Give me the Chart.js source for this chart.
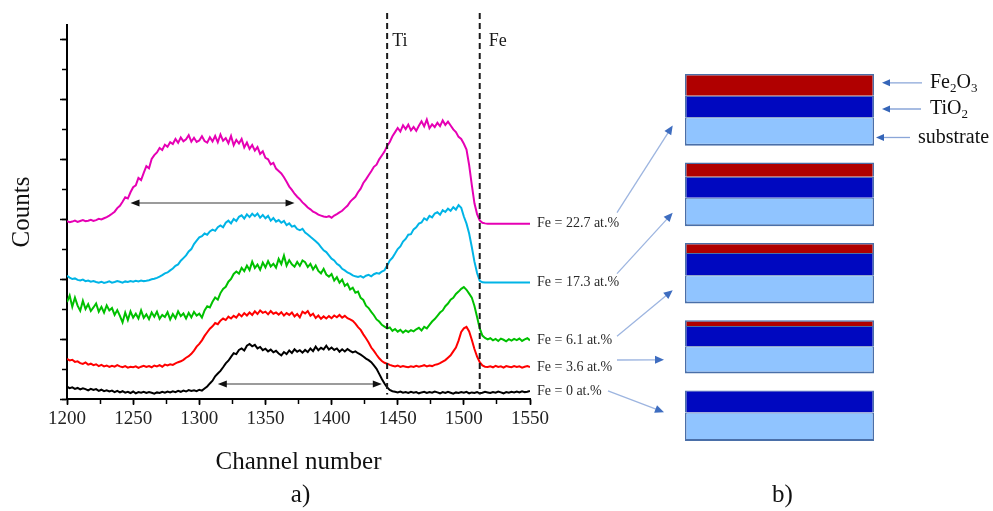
<!DOCTYPE html>
<html>
<head>
<meta charset="utf-8">
<title>RBS spectra of Fe2O3/TiO2 films</title>
<script src="https://cdn.jsdelivr.net/npm/chart.js@4.4.1/dist/chart.umd.min.js"></script>
<style>
  html, body { margin: 0; padding: 0; background: #ffffff; }
  #wrap { position: relative; width: 993px; height: 511px; }
  #wrap canvas { position: absolute; left: 0; top: 0; }
  #layers { pointer-events: none; }
</style>
</head>
<body>
<div id="wrap">
  <canvas id="spectra" width="993" height="511"></canvas>
  <canvas id="layers" width="993" height="511"></canvas>
</div>
<script>
// ---------------------------------------------------------------------------
// Spectra: counts (arbitrary, vertically offset) every 2 channels, 1200..1550
// ---------------------------------------------------------------------------
const channelStart = 1200;
const channelStep = 2;

const sampleLabels = ['Fe = 0 at.%', 'Fe = 3.6 at.%', 'Fe = 6.1 at.%', 'Fe = 17.3 at.%', 'Fe = 22.7 at.%'];

const countsFe0 = [
  4.1, 3.6, 3.9, 3.4, 3.7, 3.2, 3.6, 3.3, 2.9, 3.4,
  3.0, 3.3, 2.7, 3.1, 2.6, 2.9, 2.5, 2.8, 2.3, 2.7,
  2.2, 2.6, 2.1, 2.4, 2.0, 2.5, 1.9, 2.3, 2.1, 2.4,
  2.0, 2.3, 2.1, 1.8, 2.2, 2.0, 2.4, 2.1, 2.5, 2.2,
  2.6, 2.3, 2.7, 2.4, 2.8, 2.5, 3.0, 2.7, 2.9, 2.6,
  3.1, 2.8, 3.5, 4.2, 5.2, 6.1, 7.6, 8.5, 9.4, 10.6,
  11.9, 12.8, 14.1, 15.3, 15.0, 16.4, 16.9, 16.2, 17.8, 18.4,
  17.6, 18.1, 16.9, 17.4, 16.3, 16.8, 15.9, 16.5, 15.6, 16.1,
  15.2, 14.6, 15.7, 15.0, 16.2, 15.4, 16.6, 15.8, 16.3, 15.5,
  16.4, 15.7, 16.9, 16.0, 17.5, 16.3, 17.1, 16.6, 17.8, 16.5,
  17.2, 16.4, 16.9, 15.8, 16.6, 15.9, 16.7, 16.1, 15.6, 15.9,
  15.3, 14.8, 14.2, 13.5, 13.0, 12.3, 11.2, 10.1, 8.4, 6.7,
  5.2, 3.9, 3.0, 2.6, 2.4, 2.2, 2.5, 2.1, 2.3, 2.0,
  2.4, 2.1, 2.3, 1.9, 2.2, 2.4, 2.0, 2.3, 2.1, 2.5,
  2.2, 1.9, 2.3, 2.0, 2.4, 2.1, 1.8, 2.2, 2.0, 2.3,
  2.1, 2.4, 1.9, 2.2, 2.0, 2.3, 1.9, 2.1, 2.4, 2.2,
  2.0, 2.3, 2.1, 2.5, 2.2, 1.9, 2.3, 2.1, 2.4, 2.2,
  2.5, 2.2, 2.6, 2.3, 2.4, 2.7
];

const countsFe36 = [
  13.4, 12.9, 13.1, 12.4, 12.6, 12.0, 11.7, 12.2, 11.5, 11.8,
  11.3, 11.6, 11.0, 11.4, 10.9, 11.2, 10.7, 11.1, 10.8, 11.3,
  10.9, 10.6, 11.0, 10.5, 10.8, 10.6, 10.9, 10.4, 10.8, 11.1,
  10.7, 11.0, 10.6, 11.2, 10.9, 11.3, 10.8, 11.5, 11.2, 11.6,
  11.4, 11.9, 12.3, 12.6, 13.1, 13.8, 14.3, 15.1, 16.2, 17.5,
  18.4, 19.6, 21.1, 22.3, 23.5, 24.3, 25.4, 25.0, 26.2, 26.9,
  26.4, 27.5, 26.9, 27.8, 27.2, 28.4, 27.6, 28.7, 27.9, 28.9,
  28.1, 29.3, 28.4, 29.6, 28.8, 29.2, 28.3, 29.4, 28.5, 28.9,
  28.2, 29.0, 27.9, 28.7, 28.1, 28.9, 27.6, 28.4, 27.3, 29.2,
  28.6, 29.4, 27.8, 28.5, 27.1, 27.9, 26.8, 27.6, 26.9, 27.7,
  27.0, 27.9, 27.3, 28.1, 27.2, 27.8, 27.0, 26.6, 26.1, 25.2,
  24.0, 23.1, 21.6, 20.3, 18.9, 17.2, 16.1, 14.8, 13.6, 12.7,
  12.1, 11.8, 11.4, 11.1, 10.9, 11.2, 10.7, 11.0, 10.8, 10.6,
  10.9, 10.7, 11.1, 10.8, 11.0, 11.3, 10.9, 11.2, 11.0, 11.4,
  11.6, 12.0, 12.5, 13.0, 13.8, 14.6, 15.9, 17.2, 19.5, 22.4,
  23.6, 24.1, 22.6, 19.8, 16.7, 14.2, 12.3, 11.2, 10.8, 10.7,
  10.9, 10.6, 11.1, 10.7, 10.9, 10.5, 11.0, 10.8, 10.6, 11.0,
  10.7, 10.9, 10.5, 10.8, 11.0, 10.7
];

const countsFe61 = [
  32.4, 34.6, 30.8, 33.9, 31.2, 29.5, 32.8, 30.1, 31.7, 29.4,
  30.6, 31.9, 29.2, 30.8, 28.9, 31.3, 29.6, 30.4, 28.1, 29.7,
  27.8, 25.6, 28.9, 26.4, 29.3, 27.2, 28.5, 26.9, 29.6, 27.1,
  28.3, 26.7, 28.9, 27.5, 29.2, 26.8, 28.1, 27.4, 29.0, 26.6,
  28.4, 27.0, 29.3, 27.7, 28.6, 26.9, 28.8, 27.3, 29.1, 27.9,
  28.5, 27.2, 29.6, 31.0, 30.6, 32.5, 33.9, 33.2, 35.4, 36.8,
  37.5, 39.2, 40.1, 41.8, 42.6, 41.9, 43.8, 42.7, 44.6, 43.1,
  45.9, 43.8, 44.9, 43.2, 45.6, 44.0, 46.1, 44.3, 45.2, 43.9,
  46.8, 45.1, 47.9, 44.6, 46.4, 45.0, 44.2, 45.8, 44.5, 46.3,
  45.7, 44.1, 45.2, 43.3, 44.6, 42.8, 42.0, 43.5, 41.6, 40.9,
  41.8, 39.6, 40.7, 38.9, 39.9, 37.8, 38.5, 36.6, 37.2, 35.5,
  35.9, 33.8, 33.1, 31.2, 30.4, 29.1, 28.0, 26.6, 25.9, 24.8,
  24.2, 23.6, 23.9, 22.8, 23.4, 22.5, 23.1, 22.2, 22.9, 22.4,
  23.0, 22.6, 23.3, 23.8, 22.9, 24.1, 23.6, 24.8, 25.9, 26.7,
  27.8, 28.9, 29.6, 31.0, 31.9, 33.2, 33.8, 35.1, 35.9, 36.8,
  37.4, 36.5, 35.2, 33.9, 31.1, 27.4, 23.6, 21.2, 20.4, 19.9,
  20.3, 19.6, 20.1, 19.4, 20.2, 19.8, 19.3, 20.0, 19.5, 20.1,
  19.7, 20.2, 19.4, 19.9, 20.3, 19.6
];

const countsFe173 = [
  41.2, 40.6, 40.1, 40.3, 39.8, 39.6, 39.9, 39.4, 39.6, 39.2,
  39.4, 39.1, 38.9, 39.2, 38.8, 39.0, 39.3, 38.9, 39.1, 39.4,
  39.2, 38.9, 39.3, 39.1, 39.4, 39.2, 39.5, 39.3, 39.6, 39.4,
  39.5, 39.7, 40.0, 40.2, 40.5, 40.9, 41.4, 42.0, 42.3, 43.0,
  43.6, 44.5, 45.0, 46.2, 47.1, 48.0, 49.3, 50.1, 51.8, 52.9,
  54.0, 54.4, 55.3, 54.9, 56.0, 56.6, 56.2, 57.4, 58.0, 57.4,
  58.9, 59.6, 58.7, 60.2, 59.5, 60.9, 61.4, 60.3, 61.7, 60.8,
  61.9, 61.1, 62.0, 60.6, 61.5, 60.4, 61.2, 59.6, 60.5, 59.3,
  59.8, 58.9, 59.5, 58.1, 58.7, 57.6, 57.9, 56.8, 56.4, 56.9,
  55.6, 55.0, 54.2, 53.5, 52.7, 51.9, 50.8, 49.7, 49.1, 48.0,
  46.9, 46.3, 45.2, 44.6, 43.5, 43.0, 42.3, 41.9, 41.3, 41.0,
  40.8, 41.1, 40.6, 41.2, 41.5, 41.0, 41.7, 42.1, 41.9, 42.6,
  43.0, 44.6, 46.3, 47.2, 48.6, 50.1, 51.0, 52.6, 53.5, 54.9,
  55.1, 56.7, 57.4, 58.6, 59.0, 60.4, 59.8, 61.2, 60.7, 62.0,
  62.4, 61.6, 63.1, 62.5, 63.6, 62.9, 64.1, 63.3, 64.8, 63.9,
  61.0, 58.6, 55.3, 50.8, 45.9, 42.1, 39.5, 39.0, 38.9, 38.9,
  38.9, 38.9, 38.9, 38.9, 38.9, 38.9, 38.9, 38.9, 38.9, 38.9,
  38.9, 38.9, 38.9, 38.9, 38.9, 38.9
];

const countsFe227 = [
  59.4, 59.1, 59.3, 59.6, 59.2, 59.5, 59.8, 59.4, 59.6, 59.9,
  59.5, 59.8, 60.2, 60.0, 60.4, 60.8, 61.3, 61.9, 62.6, 63.8,
  64.6, 65.9, 67.4, 67.0, 69.1, 70.8, 71.4, 73.9, 73.2, 75.6,
  77.8, 77.1, 80.2, 81.5, 82.4, 83.9, 83.2, 85.0, 84.3, 85.8,
  85.2, 86.9, 85.6, 87.4, 86.1, 86.8, 88.2, 86.0, 87.3, 85.9,
  86.4, 87.8, 86.2, 85.7, 87.5, 86.1, 87.9, 85.8, 88.4, 86.3,
  87.2, 85.5, 87.9, 84.8, 86.6, 85.4, 86.9, 84.1, 85.7, 83.6,
  84.9, 83.0, 84.2, 81.9, 82.8, 80.6, 80.1, 78.4, 78.9, 77.0,
  76.2, 75.4, 74.1, 72.6, 71.0, 69.9, 68.6, 67.6, 66.8, 65.7,
  64.9, 64.0, 63.4, 62.6, 62.2, 61.6, 61.3, 61.0, 60.8, 61.1,
  60.6, 61.3, 61.8, 62.4, 62.9, 63.8, 64.6, 65.9, 66.8, 67.6,
  69.1, 70.3, 72.2, 73.4, 74.8, 76.1, 77.6, 78.3, 80.1, 81.4,
  82.7, 84.6, 85.9, 87.8, 89.2, 90.6, 89.4, 91.5, 90.2, 91.7,
  89.8, 90.9, 89.6, 91.3, 92.8, 91.1, 93.4, 90.5, 91.8, 90.9,
  92.3, 91.2, 93.1, 91.6, 92.7, 91.4, 90.1, 89.2, 87.6, 86.9,
  85.3, 83.4, 78.2, 71.6, 65.4, 61.8, 59.7, 58.9, 58.7, 58.6,
  58.6, 58.6, 58.6, 58.6, 58.6, 58.6, 58.6, 58.6, 58.6, 58.6,
  58.6, 58.6, 58.6, 58.6, 58.6, 58.6
];

const seriesCounts = [countsFe0, countsFe36, countsFe61, countsFe173, countsFe227];
const seriesColors = ['#000000', '#ff0000', '#00c000', '#00b4e6', '#e600b4'];

// Surface-edge channels of Ti and Fe
const edgeChannels = [1442, 1512];
const edgeLabels = ['Ti', 'Fe'];

// Width markers: [from channel, to channel, counts level]
const widthMarkers = [[1248, 1372, 65.5], [1314, 1438, 5]];

// ---------------------------------------------------------------------------
// Layer sketches: thicknesses of each film layer per sample (top to bottom)
// ---------------------------------------------------------------------------
const layerSamples = ['Fe = 22.7 at.%', 'Fe = 17.3 at.%', 'Fe = 6.1 at.%', 'Fe = 3.6 at.%', 'Fe = 0 at.%'];
const fe2o3Thickness = [21.7, 14.4, 10.0, 5.7, 0];
const tio2Thickness = [21.6, 21.0, 22.3, 20.3, 22.0];
const substrateThickness = [28.4, 28.3, 28.3, 27.3, 28.6];

// ---------------------------------------------------------------------------
const SERIF = '"Liberation Serif", "Times New Roman", Times, serif';
Chart.defaults.font.family = SERIF;

function toPoints(values) {
  return values.map((v, i) => ({ x: channelStart + i * channelStep, y: v }));
}

function arrowHead(ctx, tipX, tipY, fromX, fromY, len, half, color) {
  const a = Math.atan2(tipY - fromY, tipX - fromX);
  ctx.save();
  ctx.translate(tipX, tipY);
  ctx.rotate(a);
  ctx.beginPath();
  ctx.moveTo(0, 0);
  ctx.lineTo(-len, -half);
  ctx.lineTo(-len, half);
  ctx.closePath();
  ctx.fillStyle = color;
  ctx.fill();
  ctx.restore();
}

function arrow(ctx, x0, y0, x1, y1, lineColor, headColor, width, len, half) {
  const a = Math.atan2(y1 - y0, x1 - x0);
  ctx.save();
  ctx.setLineDash([]);
  ctx.strokeStyle = lineColor;
  ctx.lineWidth = width;
  ctx.beginPath();
  ctx.moveTo(x0, y0);
  ctx.lineTo(x1 - Math.cos(a) * len * 0.8, y1 - Math.sin(a) * len * 0.8);
  ctx.stroke();
  ctx.restore();
  arrowHead(ctx, x1, y1, x0, y0, len, half, headColor);
}

const spectraMarks = {
  id: 'spectraMarks',
  afterDatasetsDraw(chart) {
    const { ctx, chartArea } = chart;
    const x = chart.scales.x;
    const y = chart.scales.y;
    ctx.save();

    // dashed edge lines with element labels
    const labelShift = [5, 9];
    edgeChannels.forEach((c, i) => {
      const px = x.getPixelForValue(c);
      ctx.save();
      ctx.setLineDash([6, 4]);
      ctx.lineWidth = 2;
      ctx.strokeStyle = '#1a1a1a';
      ctx.beginPath();
      ctx.moveTo(px, y.getPixelForValue(129));
      ctx.lineTo(px, y.getPixelForValue(1.5));
      ctx.stroke();
      ctx.restore();
      ctx.fillStyle = '#1a1a1a';
      ctx.font = '18px ' + SERIF;
      ctx.textAlign = 'left';
      ctx.textBaseline = 'middle';
      ctx.fillText(edgeLabels[i], px + labelShift[i], y.getPixelForValue(119.5));
    });

    // double-headed width markers
    widthMarkers.forEach(([c0, c1, level]) => {
      const x0 = x.getPixelForValue(c0);
      const x1 = x.getPixelForValue(c1);
      const py = y.getPixelForValue(level);
      ctx.save();
      ctx.strokeStyle = '#7a7a7a';
      ctx.lineWidth = 1.5;
      ctx.beginPath();
      ctx.moveTo(x0 + 6, py);
      ctx.lineTo(x1 - 6, py);
      ctx.stroke();
      ctx.restore();
      arrowHead(ctx, x0, py, x1, py, 9, 3.5, '#111');
      arrowHead(ctx, x1, py, x0, py, 9, 3.5, '#111');
    });

    // composition labels at the end of each spectrum
    ctx.fillStyle = '#2a2a2a';
    ctx.font = '14px ' + SERIF;
    ctx.textAlign = 'left';
    ctx.textBaseline = 'middle';
    seriesCounts.forEach((vals, i) => {
      ctx.fillText(sampleLabels[i], chartArea.right + 7, y.getPixelForValue(vals[vals.length - 1]));
    });

    // panel label
    ctx.fillStyle = '#111';
    ctx.font = '25px ' + SERIF;
    ctx.textAlign = 'center';
    ctx.fillText('a)', (chartArea.left + chartArea.right) / 2 + 2, chartArea.bottom + 96);
    ctx.restore();
  }
};

const tickGrid = (len) => ({ drawOnChartArea: false, drawTicks: true, tickLength: len, tickWidth: 1.5, tickColor: '#000' });

const spectraChart = new Chart(document.getElementById('spectra'), {
  type: 'line',
  data: {
    datasets: seriesCounts.map((vals, i) => ({
      label: sampleLabels[i],
      data: toPoints(vals),
      borderColor: seriesColors[i],
      backgroundColor: seriesColors[i],
      borderWidth: 2,
      pointRadius: 0,
      tension: 0,
      fill: false
    }))
  },
  options: {
    responsive: false,
    animation: false,
    layout: { padding: { top: 25, right: 463, bottom: 0, left: 0 } },
    plugins: { legend: { display: false }, tooltip: { enabled: false } },
    scales: {
      x: {
        type: 'linear', position: 'bottom', min: 1200, max: 1550,
        ticks: { stepSize: 50, color: '#222', font: { size: 19 }, maxRotation: 0, padding: 3,
                 callback: (v) => String(v) },
        grid: tickGrid(6),
        border: { color: '#000', width: 2 },
        title: { display: true, text: 'Channel number', color: '#111', font: { size: 25 }, padding: { top: 0, bottom: 34 } },
        afterFit: (s) => { s.height = 112; }
      },
      xMinor: {
        axis: 'x', type: 'linear', position: { y: 0 }, min: 1200, max: 1550,
        ticks: { stepSize: 25, display: false },
        grid: tickGrid(5),
        border: { display: false }
      },
      y: {
        type: 'linear', position: 'left', min: 0, max: 125,
        ticks: { stepSize: 20, display: false, includeBounds: false },
        grid: tickGrid(7),
        border: { color: '#000', width: 2 },
        title: { display: true, text: 'Counts', color: '#111', font: { size: 25 }, padding: { top: 7, bottom: 0 } },
        afterFit: (s) => { s.width = 67; }
      },
      yMinor: {
        axis: 'y', type: 'linear', position: { x: 1200 }, min: 0, max: 125,
        ticks: { stepSize: 10, display: false, includeBounds: false },
        grid: tickGrid(5),
        border: { display: false }
      }
    }
  },
  plugins: [spectraMarks]
});

// ---------------------------------------------------------------------------
// Layer sketches as floating stacked bars
// ---------------------------------------------------------------------------
const sketchGap = 16.8;
const bases = [];
let level = 0;
for (let i = layerSamples.length - 1; i >= 0; i--) {
  bases[i] = level;
  level += substrateThickness[i] + tio2Thickness[i] + fe2o3Thickness[i] + sketchGap;
}
const sketchTop = level - sketchGap;

const outline = '#4a6fa8';
function layerData(lowerOf, thick) {
  return layerSamples.map((_, i) => {
    const lo = lowerOf(i);
    return { x: 'film', y: thick[i] > 0 ? [lo, lo + thick[i]] : null };
  });
}

const layerDatasets = [
  {
    label: 'substrate', backgroundColor: '#90c4ff',
    data: layerData((i) => bases[i], substrateThickness),
    borderWidth: { top: 1, left: 1.5, right: 1.5, bottom: 2 }
  },
  {
    label: 'TiO2', backgroundColor: '#0008c0',
    data: layerData((i) => bases[i] + substrateThickness[i], tio2Thickness),
    borderWidth: { top: 1, left: 1.5, right: 1.5, bottom: 0 }
  },
  {
    label: 'Fe2O3', backgroundColor: '#b00000',
    data: layerData((i) => bases[i] + substrateThickness[i] + tio2Thickness[i], fe2o3Thickness),
    borderWidth: { top: 1.5, left: 1.5, right: 1.5, bottom: 0 }
  }
].map((d) => Object.assign(d, {
  borderColor: outline, borderSkipped: false, grouped: false,
  barPercentage: 1, categoryPercentage: 1, inflateAmount: 0
}));

function drawFormula(ctx, parts, x, y) {
  let cx = x;
  parts.forEach(([txt, sub]) => {
    ctx.font = (sub ? '13px ' : '20px ') + SERIF;
    ctx.fillText(txt, cx, sub ? y + 6 : y);
    cx += ctx.measureText(txt).width;
  });
}

const sketchMarks = {
  id: 'sketchMarks',
  afterDraw(chart) {
    const { ctx, chartArea } = chart;
    const y = chart.scales.y;
    ctx.save();

    // layer legend next to the top sketch
    const b0 = bases[0];
    const subTop = b0 + substrateThickness[0];
    const tiTop = subTop + tio2Thickness[0];
    const feTop = tiTop + fe2o3Thickness[0];
    const rows = [
      { mid: y.getPixelForValue((tiTop + feTop) / 2) - 2, tip: 8, tail: 48, tx: 56, parts: [['Fe', false], ['2', true], ['O', false], ['3', true]] },
      { mid: y.getPixelForValue((subTop + tiTop) / 2) + 2.5, tip: 8, tail: 47, tx: 56, parts: [['TiO', false], ['2', true]] },
      { mid: y.getPixelForValue((b0 + subTop) / 2) + 6, tip: 2, tail: 36, tx: 44, parts: [['substrate', false]] }
    ];
    rows.forEach((r) => {
      arrow(ctx, chartArea.right + r.tail, r.mid, chartArea.right + r.tip, r.mid, '#8aa6d8', '#3565b8', 1.3, 8, 3.5);
      ctx.fillStyle = '#111';
      ctx.textAlign = 'left';
      ctx.textBaseline = 'middle';
      drawFormula(ctx, r.parts, chartArea.right + r.tx, r.mid);
    });

    // pointers from each composition label to its sketch
    const sy = spectraChart.scales.y;
    const sArea = spectraChart.chartArea;
    const startDx = [87, 87, 87, 87, 78];
    const startDy = [-11, -9, -4, -7, 0];
    const tipDx = [12.3, 12.3, 12.3, 21, 21];
    const tipFrac = [0.72, 0.79, 0.78, 0.74, 0.43];
    layerSamples.forEach((name, i) => {
      const k = sampleLabels.indexOf(name);
      const vals = seriesCounts[k];
      const x0 = sArea.right + startDx[i];
      const y0 = sy.getPixelForValue(vals[vals.length - 1]) + startDy[i];
      const total = substrateThickness[i] + tio2Thickness[i] + fe2o3Thickness[i];
      const top = y.getPixelForValue(bases[i] + total);
      const bottom = y.getPixelForValue(bases[i]);
      const x1 = chartArea.left - tipDx[i];
      const y1 = top + tipFrac[i] * (bottom - top);
      arrow(ctx, x0, y0, x1, y1, '#9db5e0', '#3e6dc0', 1.3, 9, 4);
    });

    // panel label
    ctx.fillStyle = '#111';
    ctx.font = '25px ' + SERIF;
    ctx.textAlign = 'center';
    ctx.textBaseline = 'middle';
    ctx.fillText('b)', (chartArea.left + chartArea.right) / 2 + 3, 495);
    ctx.restore();
  }
};

new Chart(document.getElementById('layers'), {
  type: 'bar',
  data: { labels: ['film'], datasets: layerDatasets },
  options: {
    responsive: false,
    animation: false,
    layout: { padding: { left: 685, right: 119, top: 74, bottom: 70 } },
    plugins: { legend: { display: false }, tooltip: { enabled: false } },
    scales: {
      x: { type: 'category', display: false, offset: true },
      y: { type: 'linear', display: false, min: 0, max: sketchTop }
    }
  },
  plugins: [sketchMarks]
});
</script>
</body>
</html>
